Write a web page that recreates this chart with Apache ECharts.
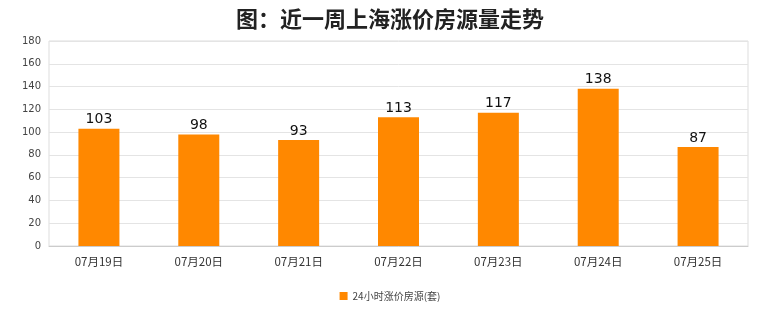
<!DOCTYPE html>
<html><head><meta charset="utf-8">
<script src="https://cdn.jsdelivr.net/npm/echarts@6/dist/echarts.min.js"></script>
<style>html,body{margin:0;padding:0;background:#fff}#c{width:780px;height:328px}</style>
</head><body><div id="c"></div>
<script>
var categories = ['07月19日','07月20日','07月21日','07月22日','07月23日','07月24日','07月25日'];
var values = [103, 98, 93, 113, 117, 138, 87];
var seriesName = '24小时涨价房源(套)';
var titleText = '图：近一周上海涨价房源量走势';

var chart = echarts.init(document.getElementById('c'));
chart.setOption({
  animation: false,
  backgroundColor: '#fff',
  title: {
    text: titleText, left: 'center', top: 3,
    textStyle: {fontSize: 22, fontWeight: 'bold', color: '#222', fontFamily: 'Noto Sans CJK SC'}
  },
  legend: {
    bottom: 22, left: 'center', itemWidth: 8, itemHeight: 8, icon: 'rect',
    textStyle: {fontSize: 10, color: '#444', fontFamily: 'Noto Sans CJK SC'},
    data: [seriesName]
  },
  grid: {left: 49, right: 32, top: 41, bottom: 82, show: true, borderColor: '#ddd', borderWidth: 1},
  xAxis: {
    type: 'category', data: categories,
    axisLine: {show: true, lineStyle: {color: '#ccc'}},
    axisTick: {show: false},
    axisLabel: {fontSize: 11.5, color: '#333', margin: 10, fontFamily: 'Noto Sans CJK SC'}
  },
  yAxis: {
    type: 'value', min: 0, max: 180, interval: 20,
    axisLine: {show: false}, axisTick: {show: false},
    axisLabel: {fontSize: 10, color: '#444', margin: 8, fontFamily: 'DejaVu Sans'},
    splitLine: {lineStyle: {color: '#e4e4e4'}}
  },
  series: [{
    name: seriesName, type: 'bar', data: values, barWidth: 41, barCategoryGap: '59%',
    itemStyle: {color: '#FF8800'},
    label: {show: true, position: 'top', fontSize: 14, color: '#111', distance: 2, fontFamily: 'DejaVu Sans'}
  }]
});
</script></body></html>
